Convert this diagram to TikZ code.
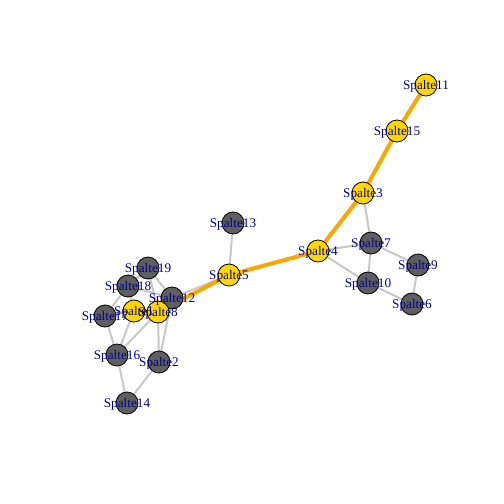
\documentclass[tikz,border=0pt]{standalone}
\usepackage{fontspec}
\setmainfont{Liberation Serif}
\definecolor{vgray}{RGB}{95,95,95}
\definecolor{vgold}{RGB}{255,215,0}
\definecolor{egray}{RGB}{200,200,200}
\definecolor{eorange}{RGB}{255,165,0}
\definecolor{lblue}{RGB}{0,0,139}
\begin{document}
\begin{tikzpicture}[x=1pt,y=-1pt,
  vtx/.style={circle,draw=black,line width=0.8pt,minimum size=22pt,inner sep=0pt},
  gv/.style={vtx,fill=vgray},
  yv/.style={vtx,fill=vgold},
  lbl/.style={text=lblue,font=\fontsize{13.2}{14}\selectfont,inner sep=0pt,yshift=-1pt},
  ge/.style={draw=egray,line width=2pt},
  oe/.style={draw=eorange,line width=4pt}]
\fill[white] (0,0) rectangle (504,504);
\useasboundingbox (0,0) rectangle (504,504);
% vertices (positions)
\coordinate (p1) at (134,311);
\coordinate (p2) at (159,362);
\coordinate (p3) at (363,193);
\coordinate (p4) at (318,251);
\coordinate (p5) at (229,275);
\coordinate (p6) at (412,304);
\coordinate (p7) at (371,243);
\coordinate (p8) at (158,312);
\coordinate (p9) at (418,265);
\coordinate (p10) at (368,283);
\coordinate (p11) at (426,85);
\coordinate (p12) at (172,298);
\coordinate (p13) at (233,223);
\coordinate (p14) at (127,403);
\coordinate (p15) at (397,131);
\coordinate (p16) at (117,355);
\coordinate (p17) at (105,316);
\coordinate (p18) at (128,286);
\coordinate (p19) at (148,268);
% gray edges
\foreach \a/\b in {3/7,4/7,4/10,7/10,7/9,9/6,10/6,13/5,5/12,19/18,19/12,19/8,18/12,18/17,18/1,8/12,17/16,1/16,8/16,12/2,8/2,16/14,2/14,17/1}
  \draw[ge] (p\a) -- (p\b);
% orange edges
\foreach \a/\b in {11/15,15/3,3/4,4/5,5/8,8/1}
  \draw[oe] (p\a) -- (p\b);
% vertices
\foreach \i in {2,6,7,9,10,12,13,14,16,17,18,19}
  \node[gv] (v\i) at (p\i) {};
\foreach \i in {1,3,4,5,8,11,15}
  \node[yv] (v\i) at (p\i) {};
% labels
\foreach \i in {1,...,19}
  \node[lbl] (l\i) at (v\i.center) {Spalte\i};
\end{tikzpicture}
\end{document}
